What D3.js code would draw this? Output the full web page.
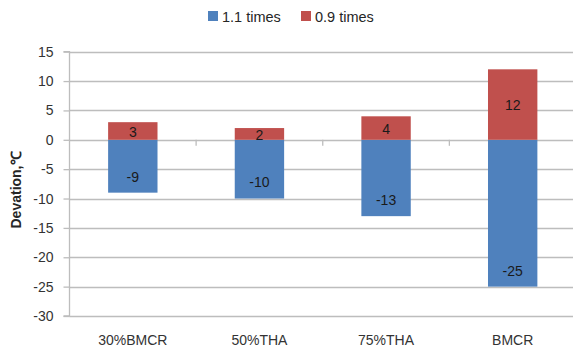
<!DOCTYPE html>
<html>
<head>
<meta charset="utf-8">
<script src="https://cdn.jsdelivr.net/npm/d3@7"></script>
<style>
  html, body { margin: 0; padding: 0; background: #fff; }
  svg { display: block; font-family: "Liberation Sans", Arial, sans-serif; }
</style>
</head>
<body>
<svg id="chart" width="573" height="347"></svg>
<script>
// Temperature deviation per operating condition
const categories = ["30%BMCR", "50%THA", "75%THA", "BMCR"];
const seriesNames = ["1.1 times", "0.9 times"];
const timesLow = [-9, -10, -13, -25];   // 1.1 times
const timesHigh = [3, 2, 4, 12];        // 0.9 times
const yTicks = [15, 10, 5, 0, -5, -10, -15, -20, -25, -30];

const colors = ["#4f81bd", "#c0504d"];
const svg = d3.select("#chart");

const plotL = 69.5, plotR = 576, plotT = 51.7, plotB = 316;

const x = d3.scaleBand().domain(categories).range([plotL, plotR]).paddingInner(0.61).paddingOuter(0.305);
const y = d3.scaleLinear().domain([-30, 15]).range([plotB, plotT]);

// gridlines
svg.append("g").selectAll("line").data(yTicks).join("line")
  .attr("x1", plotL).attr("x2", 573)
  .attr("y1", d => Math.round(y(d)) + 0.5).attr("y2", d => Math.round(y(d)) + 0.5)
  .attr("stroke", "#bdbdbd").attr("stroke-width", 1.3);

// y axis (plain hyphen for negatives)
const yAxis = d3.axisLeft(y).tickValues(yTicks).tickFormat(d => String(d)).tickSize(6).tickPadding(10);
const gy = svg.append("g").attr("transform", `translate(${plotL},0)`).call(yAxis);
gy.select(".domain").attr("stroke", "#bdbdbd").attr("stroke-width", 1.3).attr("d", `M-6,${plotT}H0V${plotB}H-6`);
gy.selectAll(".tick line").attr("stroke", "#bdbdbd").attr("stroke-width", 1.3);
gy.selectAll(".tick text").attr("font-size", 14).attr("fill", "#333");

// category separator ticks on the zero line
const step = x.step();
svg.append("g").selectAll("line").data(d3.range(1, categories.length)).join("line")
  .attr("x1", i => plotL + i * step).attr("x2", i => plotL + i * step)
  .attr("y1", y(0)).attr("y2", y(0) + 6)
  .attr("stroke", "#bdbdbd").attr("stroke-width", 1.3);

// category labels
svg.append("g").selectAll("text").data(categories).join("text")
  .attr("x", d => x(d) + x.bandwidth() / 2).attr("y", 345)
  .attr("text-anchor", "middle").attr("font-size", 14).attr("fill", "#333")
  .text(d => d);

// bars
const bars = svg.append("g");
bars.selectAll("rect.low").data(timesLow).join("rect").attr("class", "low")
  .attr("x", (d, i) => x(categories[i])).attr("width", x.bandwidth())
  .attr("y", d => y(Math.max(0, d))).attr("height", d => Math.abs(y(d) - y(0)))
  .attr("fill", colors[0]);
bars.selectAll("rect.high").data(timesHigh).join("rect").attr("class", "high")
  .attr("x", (d, i) => x(categories[i])).attr("width", x.bandwidth())
  .attr("y", d => y(d)).attr("height", d => Math.abs(y(0) - y(d)))
  .attr("fill", colors[1]);

// value labels: blue near the bar end, red centred
const labels = svg.append("g").attr("font-size", 14).attr("fill", "#1a1a1a").attr("text-anchor", "middle");
labels.selectAll("text.low").data(timesLow).join("text").attr("class", "low")
  .attr("x", (d, i) => x(categories[i]) + x.bandwidth() / 2)
  .attr("y", d => y(d) - 16).attr("dy", "0.35em")
  .text(d => String(d));
labels.selectAll("text.high").data(timesHigh).join("text").attr("class", "high")
  .attr("x", (d, i) => x(categories[i]) + x.bandwidth() / 2)
  .attr("y", d => (y(d) + y(0)) / 2 + 1).attr("dy", "0.35em")
  .text(d => String(d));

// y axis title
svg.append("text")
  .attr("transform", "translate(21,190) rotate(-90)")
  .attr("text-anchor", "middle").attr("font-size", 14).attr("font-weight", "bold").attr("fill", "#262626")
  .text("Devation,℃");

// legend
const legendX = [208, 301];
const lg = svg.append("g");
seriesNames.forEach((name, i) => {
  lg.append("rect").attr("x", legendX[i]).attr("y", 11).attr("width", 10).attr("height", 10).attr("fill", colors[i]);
  lg.append("text").attr("x", legendX[i] + 14).attr("y", 21.5).attr("font-size", 14.5).attr("fill", "#262626").text(name);
});
</script>
</body>
</html>
